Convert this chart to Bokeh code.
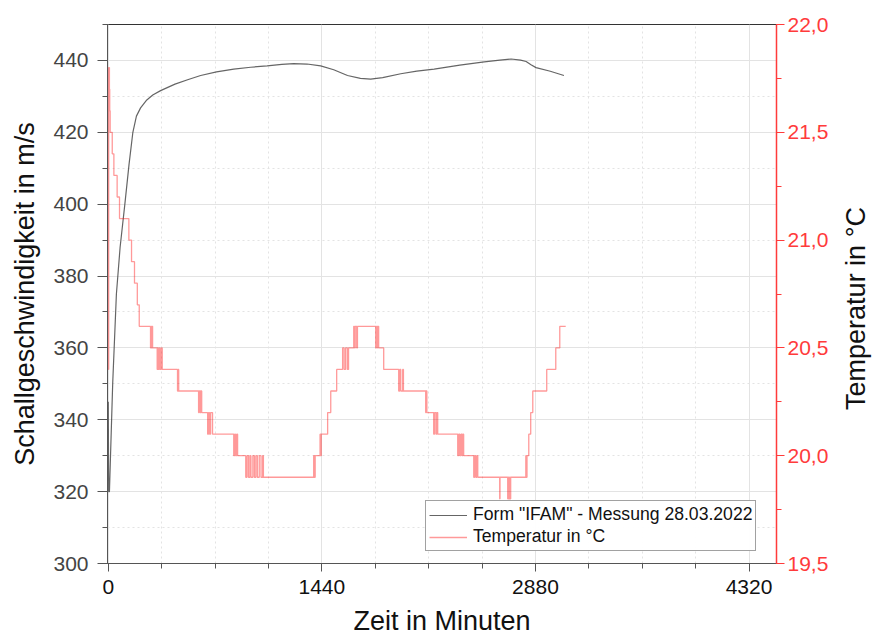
import math
from bokeh.plotting import figure
from bokeh.models import (Range1d, LinearAxis, FixedTicker, SingleIntervalTicker,
                          CustomJSTickFormatter, Legend, LegendItem, Label)
from bokeh.embed import file_html
from bokeh.resources import INLINE

# ---------------- data ----------------
speed_t = [0, 3, 8, 30, 55, 80, 112, 140, 166, 190, 218, 260, 300, 353, 450, 540, 623,
           730, 846, 960, 1071, 1170, 1250, 1340, 1432, 1520, 1613, 1700, 1769, 1850,
           1972, 2080, 2197, 2370, 2535, 2640, 2716, 2780, 2817, 2850, 2884, 2980, 3072]
speed_v = [345, 320, 320, 350, 375, 388, 400, 411, 420, 424.5, 426.8, 429, 430.4, 431.6,
           433.4, 434.7, 435.8, 436.8, 437.6, 438.1, 438.5, 438.9, 439.1, 439.0, 438.5,
           437.4, 435.8, 435.0, 434.8, 435.2, 436.3, 437.0, 437.6, 438.7, 439.6, 440.1,
           440.4, 440.1, 439.7, 438.8, 438.0, 437.0, 435.8]

temp_t = [0, 3, 8, 10, 13, 27, 38, 60, 76, 139, 157, 177, 196, 209,
          285, 289, 292, 296, 299,
          330, 334, 338, 345, 350, 358, 364,
          467, 471, 475,
          609, 614, 620, 625, 630,
          670, 676, 683, 690, 703,
          846, 852, 858, 866, 872,
          927, 935, 945, 955, 962, 975, 985, 995, 1005, 1018, 1030, 1041, 1046,
          1385, 1390, 1395,
          1428, 1432, 1436,
          1479, 1500, 1540,
          1580, 1590, 1600, 1612, 1620,
          1655, 1660, 1665, 1675, 1680,
          1803, 1808, 1815, 1818, 1823,
          1857,
          1958, 1965, 1972, 1985, 1990,
          2140, 2144, 2148,
          2194, 2200, 2210, 2216, 2221,
          2356, 2362, 2370, 2378, 2385, 2390, 2396,
          2464, 2470, 2478, 2485, 2491,
          2639, 2641,
          2693, 2697, 2700, 2705, 2709, 2713,
          2815, 2819, 2823,
          2835, 2848, 2862, 2956, 3017, 3044, 3084]
temp_v = [20.4, 21.8, 21.7, 21.6, 21.5, 21.4, 21.3, 21.2, 21.1, 21.0, 20.9, 20.8, 20.7, 20.6,
          20.5, 20.6, 20.5, 20.6, 20.5,
          20.4, 20.5, 20.4, 20.5, 20.4, 20.5, 20.4,
          20.3, 20.4, 20.3,
          20.2, 20.3, 20.2, 20.3, 20.2,
          20.1, 20.2, 20.1, 20.2, 20.1,
          20.0, 20.1, 20.0, 20.1, 20.0,
          19.9, 20.0, 19.9, 20.0, 19.9, 20.0, 19.9, 20.0, 19.9, 20.0, 19.9, 20.0, 19.9,
          20.0, 19.9, 20.0,
          20.1, 20.0, 20.1,
          20.2, 20.3, 20.4,
          20.5, 20.4, 20.5, 20.4, 20.5,
          20.6, 20.5, 20.6, 20.5, 20.6,
          20.5, 20.6, 20.5, 20.6, 20.5,
          20.4,
          20.3, 20.4, 20.3, 20.4, 20.3,
          20.2, 20.3, 20.2,
          20.1, 20.2, 20.1, 20.2, 20.1,
          20.0, 20.1, 20.0, 20.1, 20.0, 20.1, 20.0,
          19.9, 20.0, 19.9, 20.0, 19.9,
          19.8, 19.9,
          19.8, 19.9, 19.8, 19.9, 19.8, 19.9,
          20.0, 19.9, 20.0,
          20.1, 20.2, 20.3, 20.4, 20.5, 20.6, 20.6]

x_ticks = [0, 1440, 2880, 4320]
x_minor = [360, 720, 1080, 1800, 2160, 2520, 3240, 3600, 3960, 4680]
speed_label = 'Form "IFAM" - Messung 28.03.2022'
temp_label = "Temperatur in °C"

FONT = "Liberation Sans"
RED = "#ff3b3b"
GREY = "#555555"

p = figure(width=874, height=644, output_backend="svg", toolbar_location=None,
           x_range=Range1d(-5, 4505), y_range=Range1d(300, 450),
           min_border_left=107, min_border_right=98, min_border_top=24,
           min_border_bottom=81)
p.outline_line_color = "#333333"
p.background_fill_color = "white"
p.extra_y_ranges = {"temp": Range1d(19.5, 22.0)}

r_speed = p.line(speed_t, speed_v, line_color="#4a4a4a", line_width=1.2, line_alpha=0.85)
r_temp = p.step(temp_t, temp_v, mode="after", y_range_name="temp",
                line_color="#ff0000", line_alpha=0.4, line_width=1.3)

# bottom x axis
xa = p.xaxis[0]
xa.ticker = FixedTicker(ticks=x_ticks, minor_ticks=x_minor)
xa.axis_label = "Zeit in Minuten"
xa.axis_line_color = GREY
xa.major_tick_line_color = GREY
xa.minor_tick_line_color = GREY
xa.major_tick_out = 8
xa.major_tick_in = 0
xa.minor_tick_out = 5
xa.minor_tick_in = 0
xa.major_label_standoff = 8
xa.axis_label_standoff = 9
xa.major_label_text_font = FONT
xa.major_label_text_font_size = "21px"
xa.major_label_text_color = "#111111"
xa.axis_label_text_font = FONT
xa.axis_label_text_font_size = "27px"
xa.axis_label_text_font_style = "normal"
xa.axis_label_text_color = "#111111"

# left y axis
ya = p.yaxis[0]
ya.ticker = SingleIntervalTicker(interval=20, num_minor_ticks=2)
ya.axis_label = "Schallgeschwindigkeit in m/s"
ya.axis_line_color = GREY
ya.major_tick_line_color = GREY
ya.minor_tick_line_color = GREY
ya.major_tick_out = 10
ya.major_tick_in = 0
ya.minor_tick_out = 5
ya.minor_tick_in = 0
ya.major_label_standoff = 9
ya.axis_label_standoff = 10
ya.major_label_text_font = FONT
ya.major_label_text_font_size = "21px"
ya.major_label_text_color = "#444444"
ya.axis_label_text_font = FONT
ya.axis_label_text_font_size = "27px"
ya.axis_label_text_font_style = "normal"
ya.axis_label_text_color = "#111111"

# grids
p.xgrid.grid_line_color = "#e3e3e3"
p.xgrid.minor_grid_line_color = "#e3e3e3"
p.xgrid.minor_grid_line_dash = "2 3"
p.ygrid.grid_line_color = "#e3e3e3"
p.ygrid.minor_grid_line_color = "#e3e3e3"
p.ygrid.minor_grid_line_dash = "2 3"

# right temperature axis
ra = LinearAxis(y_range_name="temp",
                ticker=SingleIntervalTicker(interval=0.5, num_minor_ticks=2),
                formatter=CustomJSTickFormatter(code="return tick.toFixed(1).replace('.', ',');"))
ra.axis_line_color = RED
ra.axis_line_width = 1.5
ra.major_tick_line_color = RED
ra.minor_tick_line_color = RED
ra.major_tick_out = 8
ra.major_tick_in = 0
ra.minor_tick_out = 5
ra.minor_tick_in = 0
ra.major_label_standoff = 3
ra.major_label_text_font = FONT
ra.major_label_text_font_size = "21px"
ra.major_label_text_color = RED
p.add_layout(ra, "right")

# right axis title, reading bottom-to-top like the reference
p.add_layout(Label(x=24, y=255, x_units="screen", y_units="screen", text=temp_label,
                   angle=math.pi / 2, text_align="center", text_baseline="middle",
                   text_font=FONT, text_font_size="27px", text_color="#111111"), "right")

legend = Legend(items=[LegendItem(label=speed_label, renderers=[r_speed]),
                       LegendItem(label=temp_label, renderers=[r_temp])],
                location=(318, 12))
legend.border_line_color = "#444444"
legend.border_line_width = 1
legend.label_text_font = FONT
legend.label_text_font_size = "17.6px"
legend.label_text_color = "#111111"
legend.glyph_width = 38
legend.glyph_height = 20
legend.label_height = 20
legend.label_standoff = 6
legend.spacing = 1
legend.padding = 3
legend.margin = 0
p.add_layout(legend)

open("out.html", "w").write(file_html(p, INLINE))
